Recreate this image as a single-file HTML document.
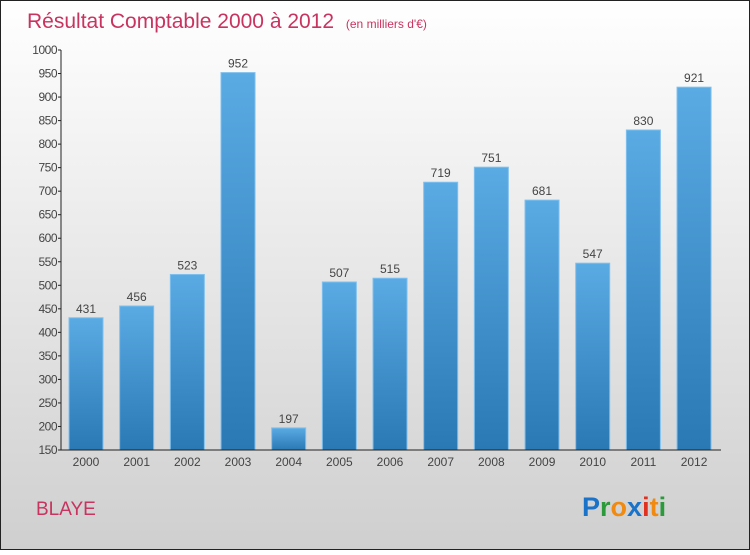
<!DOCTYPE html>
<html><head><meta charset="utf-8"><style>
html,body{margin:0;padding:0}
body{width:750px;height:550px;overflow:hidden;font-family:"Liberation Sans",sans-serif}
</style></head><body>
<svg width="750" height="550" xmlns="http://www.w3.org/2000/svg">
<defs>
<linearGradient id="bg" x1="0" y1="0" x2="0" y2="1"><stop offset="0" stop-color="#ffffff"/><stop offset="1" stop-color="#cfcfcf"/></linearGradient>
<linearGradient id="bar" x1="0" y1="0" x2="0" y2="1"><stop offset="0" stop-color="#5aaae4"/><stop offset="1" stop-color="#2a78b4"/></linearGradient>
</defs>
<rect x="0.5" y="0.5" width="749" height="549" fill="url(#bg)" stroke="#222"/>
<text x="27" y="28" font-size="21" fill="#c8335f">Résultat Comptable 2000 à 2012 <tspan font-size="12" dx="6">(en milliers d'€)</tspan></text>
<g id="yaxis"></g>
<g id="bars"></g>
<g id="xaxis"></g>
<text x="36" y="515" font-size="19" fill="#c8335f">BLAYE</text>
<text x="582" y="516" font-size="27" font-weight="bold"><tspan fill="#1a73c8">P</tspan><tspan fill="#2a9a3a">r</tspan><tspan fill="#f08a10">o</tspan><tspan fill="#1a73c8">x</tspan><tspan fill="#e03020">i</tspan><tspan fill="#f08a10">t</tspan><tspan fill="#2a9a3a">i</tspan></text>
</svg>
<script>
const years=["2000","2001","2002","2003","2004","2005","2006","2007","2008","2009","2010","2011","2012"];
const values=[431,456,523,952,197,507,515,719,751,681,547,830,921];
const yTicks=[150,200,250,300,350,400,450,500,550,600,650,700,750,800,850,900,950,1000];
const NS="http://www.w3.org/2000/svg";
const y0=450,y1=50,vmin=150,vmax=1000;
function yS(v){return y0-(v-vmin)/(vmax-vmin)*(y0-y1);}
function xS(i){return 86+i*50.67;}
function mk(t,a,p){const e=document.createElementNS(NS,t);for(const k in a)e.setAttribute(k,a[k]);p.appendChild(e);return e;}
const ya=document.getElementById('yaxis'),ba=document.getElementById('bars'),xa=document.getElementById('xaxis');
mk('line',{x1:61,y1:50,x2:61,y2:450,stroke:'#222'},ya);
yTicks.forEach(v=>{
 const y=yS(v);
 const tk=mk('line',{x1:58,y1:y,x2:61,y2:y,stroke:'#222'},ya);
 
 
 const t=mk('text',{x:57,y:y+4,'text-anchor':'end','font-size':12,fill:'#444','letter-spacing':'-0.5'},ya);
 t.textContent=v;
 
 
});
values.forEach((v,i)=>{
 const cx=xS(i),y=yS(v);
 const r=mk('rect',{x:cx-17,y:y,width:34,height:y0-y,fill:'url(#bar)',stroke:'#7fc0ee','stroke-width':1},ba);
 
 
 const t=mk('text',{x:cx,y:y-5,'text-anchor':'middle','font-size':12,fill:'#444'},ba);
 t.textContent=v;
 
 
 const xl=mk('text',{x:cx,y:466,'text-anchor':'middle','font-size':12,fill:'#444'},xa);
 xl.textContent=years[i];
 
 
});
mk('line',{x1:61,y1:450,x2:721,y2:450,stroke:'#222'},xa);
</script>
</body></html>
